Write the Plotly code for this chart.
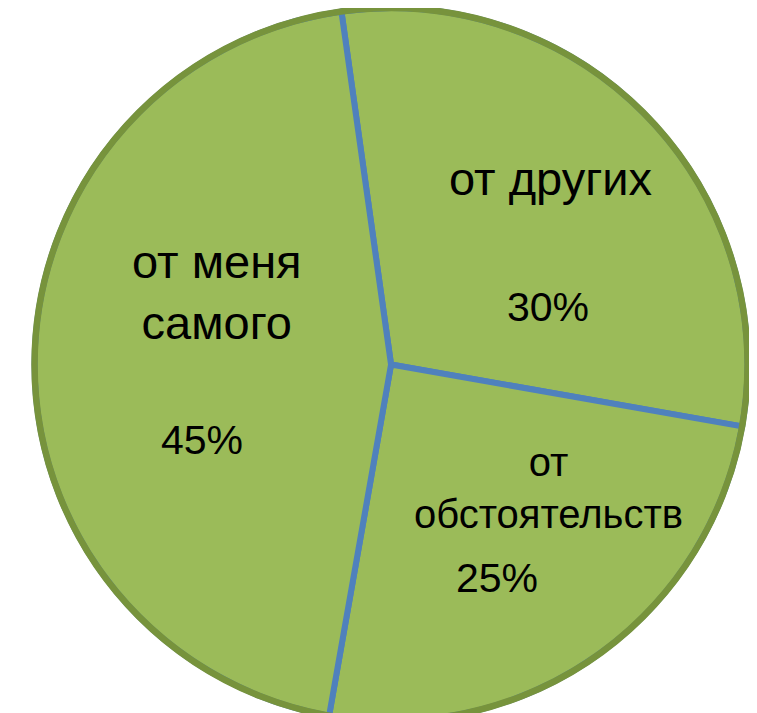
import plotly.graph_objects as go

# slices in clockwise order, starting near 12 o'clock
labels = ["от других", "от обстоятельств", "от меня самого"]
values = [30, 25, 45]
label_text = ["от других", "от<br>обстоятельств", "от меня<br>самого"]
pct_text = ["30%", "25%", "45%"]

FILL = "#9BBB59"
EDGE = "#77933C"
DIVIDER = "#4F81BD"
W, H = 757, 713
OFF = 8  # page body margin shifts the whole figure

domain = dict(x=[0.035, 0.977], y=[0, 1])

fig = go.Figure()
fig.add_trace(
    go.Pie(
        labels=labels,
        values=values,
        sort=False,
        direction="clockwise",
        rotation=-8,
        marker=dict(colors=[FILL] * len(values), line=dict(color=DIVIDER, width=6)),
        textinfo="none",
        hoverinfo="label+percent",
        domain=domain,
        showlegend=False,
    )
)
# outer rim drawn over the slice borders so only the radial dividers stay blue
fig.add_trace(
    go.Pie(
        values=[1],
        sort=False,
        marker=dict(colors=["rgba(0,0,0,0)"], line=dict(color=EDGE, width=6.5)),
        textinfo="none",
        hoverinfo="skip",
        domain=domain,
        showlegend=False,
    )
)

font = "Liberation Sans, Arial, sans-serif"
# (x px, y px, size) on screen for name and percent of each slice
label_pos = [(550, 178, 47), (548, 488, 40), (217, 292, 47)]
pct_pos = [(548, 307, 41), (497, 578, 41), (202, 440, 41)]

for txt, (px, py, size) in zip(label_text + pct_text, label_pos + pct_pos):
    fig.add_annotation(
        x=(px - OFF) / W, y=1 - (py - OFF) / H, xref="paper", yref="paper",
        xanchor="center", yanchor="middle",
        text=txt, showarrow=False, align="center",
        font=dict(family=font, size=size, color="black"),
    )

fig.update_layout(
    width=W,
    height=H,
    margin=dict(l=0, r=0, t=0, b=0),
    paper_bgcolor="white",
    plot_bgcolor="white",
)

fig.write_html("out.html")
